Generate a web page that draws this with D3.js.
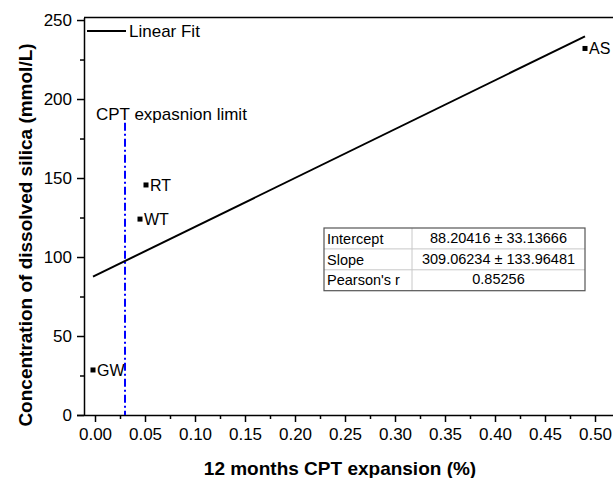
<!DOCTYPE html>
<html>
<head>
<meta charset="utf-8">
<script src="https://cdn.jsdelivr.net/npm/d3@7"></script>
<style>
  body { margin: 0; background: #fff; }
  text { font-family: Arial, "Liberation Sans", sans-serif; }
</style>
</head>
<body>
<svg id="chart" width="613" height="478"></svg>
<script>
// sample names and values
var samples = ["GW", "WT", "RT", "AS"];
var expansion = [-0.002, 0.045, 0.051, 0.490];
var silica = [28.5, 124, 145.6, 232];

// linear fit reported in the table
var fitIntercept = 88.20416;
var fitSlope = 309.06234;
var fitRows = [
  ["Intercept", "88.20416 \u00b1 33.13666"],
  ["Slope", "309.06234 \u00b1 133.96481"],
  ["Pearson's r", "0.85256"]
];

var xTicks = [0, 0.05, 0.10, 0.15, 0.20, 0.25, 0.30, 0.35, 0.40, 0.45, 0.50];
var xMinor = [0.025, 0.075, 0.125, 0.175, 0.225, 0.275, 0.325, 0.375, 0.425, 0.475];
var yTicks = [0, 50, 100, 150, 200, 250];
var yMinor = [25, 75, 125, 175, 225];
var cptLimit = 0.03;
var cptLimitTop = 185;

var svg = d3.select("#chart");
var pLeft = 84, pRight = 614, pTop = 17.5, pBottom = 415;

var x = d3.scaleLinear().domain([-0.011, 0.519]).range([pLeft, pRight]);
var y = d3.scaleLinear().domain([0, 251.6]).range([pBottom, pTop]);

// frame top
svg.append("line")
  .attr("x1", pLeft).attr("x2", pRight)
  .attr("y1", pTop).attr("y2", pTop)
  .attr("stroke", "#000").attr("stroke-width", 1.5);

// x axis
var xAxis = svg.append("g")
  .attr("transform", "translate(0," + pBottom + ")")
  .call(d3.axisBottom(x).tickValues(xTicks).tickSize(7).tickSizeOuter(0).tickPadding(6)
    .tickFormat(d3.format(".2f")));
svg.append("g")
  .attr("transform", "translate(0," + pBottom + ")")
  .call(d3.axisBottom(x).tickValues(xMinor).tickSize(4).tickSizeOuter(0).tickFormat(""))
  .select(".domain").remove();

// y axis
var yAxis = svg.append("g")
  .attr("transform", "translate(" + pLeft + ",0)")
  .call(d3.axisLeft(y).tickValues(yTicks).tickSize(7).tickSizeOuter(0).tickPadding(5));
svg.append("g")
  .attr("transform", "translate(" + pLeft + ",0)")
  .call(d3.axisLeft(y).tickValues(yMinor).tickSize(4).tickSizeOuter(0).tickFormat(""))
  .select(".domain").remove();

svg.selectAll(".tick line, .domain").attr("stroke", "#000").attr("stroke-width", 1.5);
svg.selectAll(".tick text").attr("font-size", 17).attr("fill", "#000")
  .style("font-family", "Arial, 'Liberation Sans', sans-serif");
xAxis.select(".domain").attr("d", "M" + (pLeft - 7) + ",0.5H" + pRight);

// axis titles
svg.append("text")
  .attr("x", 340).attr("y", 475)
  .attr("text-anchor", "middle")
  .attr("font-size", 19).attr("font-weight", "bold")
  .text("12 months CPT expansion (%)");
svg.append("text")
  .attr("transform", "translate(32,235) rotate(-90)")
  .attr("text-anchor", "middle")
  .attr("font-size", 19).attr("font-weight", "bold")
  .text("Concentration of dissolved silica (mmol/L)");

// CPT limit
svg.append("line")
  .attr("x1", x(cptLimit)).attr("x2", x(cptLimit))
  .attr("y1", y(cptLimitTop)).attr("y2", pBottom)
  .attr("stroke", "#0000ff").attr("stroke-width", 2)
  .attr("stroke-dasharray", "8,3,2,3");
svg.append("text")
  .attr("x", 96).attr("y", 120)
  .attr("font-size", 17)
  .text("CPT expasnion limit");

// fit line across the data range
var xr = d3.extent(expansion);
svg.append("line")
  .attr("x1", x(xr[0])).attr("y1", y(fitIntercept + fitSlope * xr[0]))
  .attr("x2", x(xr[1])).attr("y2", y(fitIntercept + fitSlope * xr[1]))
  .attr("stroke", "#000").attr("stroke-width", 2);

// points
var pts = svg.append("g");
samples.forEach(function (s, i) {
  pts.append("rect")
    .attr("x", x(expansion[i]) - 2.5).attr("y", y(silica[i]) - 2.5)
    .attr("width", 5).attr("height", 5).attr("fill", "#000");
  pts.append("text")
    .attr("x", x(expansion[i]) + 4).attr("y", y(silica[i]))
    .attr("dy", "0.36em")
    .attr("font-size", 16)
    .text(s);
});

// legend
svg.append("line")
  .attr("x1", 87).attr("x2", 126).attr("y1", 31).attr("y2", 31)
  .attr("stroke", "#000").attr("stroke-width", 2);
svg.append("text")
  .attr("x", 129).attr("y", 31).attr("dy", "0.36em")
  .attr("font-size", 17)
  .text("Linear Fit");

// fit table
var tx = 324, ty = 228, tw = 261, rh = 20.9, c1 = 88;
var tbl = svg.append("g");
fitRows.forEach(function (r, i) {
  if (i > 0) {
    tbl.append("line")
      .attr("x1", tx).attr("x2", tx + tw)
      .attr("y1", ty + i * rh).attr("y2", ty + i * rh)
      .attr("stroke", "#c8c8c8").attr("stroke-width", 1);
  }
  tbl.append("text")
    .attr("x", tx + 3).attr("y", ty + i * rh + rh / 2).attr("dy", "0.36em")
    .attr("font-size", 14.5).text(r[0]);
  tbl.append("text")
    .attr("x", tx + c1 + (tw - c1) / 2).attr("y", ty + i * rh + rh / 2 - 1).attr("dy", "0.36em")
    .attr("text-anchor", "middle")
    .attr("font-size", 14.5).text(r[1]);
});
tbl.append("line")
  .attr("x1", tx + c1).attr("x2", tx + c1)
  .attr("y1", ty).attr("y2", ty + 3 * rh)
  .attr("stroke", "#c8c8c8").attr("stroke-width", 1);
tbl.append("rect")
  .attr("x", tx).attr("y", ty).attr("width", tw).attr("height", 3 * rh)
  .attr("fill", "none").attr("stroke", "#555").attr("stroke-width", 1.2);
</script>
</body>
</html>
